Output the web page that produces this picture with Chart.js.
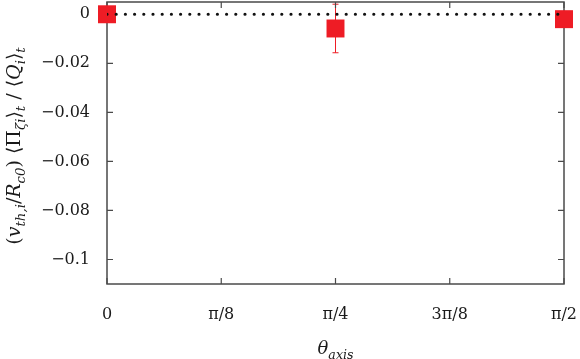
<!DOCTYPE html>
<html><head><meta charset="utf-8">
<script src="https://cdn.jsdelivr.net/npm/chart.js@4.4.0/dist/chart.umd.min.js"></script>
<style>html,body{margin:0;padding:0;background:#fff}#wrap{width:580px;height:359px}</style>
</head><body><div id="wrap"><canvas id="c" width="580" height="359"></canvas></div>
<script>
const thetaValues = [0, Math.PI / 4, Math.PI / 2];
const fluxValues = [0.0, -0.0058, -0.002];
const fluxErrors = [0.0, 0.0099, 0.0];
const xTickValues = [0, Math.PI / 8, Math.PI / 4, 3 * Math.PI / 8, Math.PI / 2];
const xTickLabels = ['0', 'π/8', 'π/4', '3π/8', 'π/2'];
const yTickValues = [0, -0.02, -0.04, -0.06, -0.08, -0.1];
const yTickLabels = ['0', '−0.02', '−0.04', '−0.06', '−0.08', '−0.1'];
const refLineX = [0, Math.PI / 2];
const refLineY = [0, 0];

const FONT = '"DejaVu Serif", "Liberation Serif", serif';
const AXIS_COLOR = '#4a4a4a';
const RED = '#ee1c25';

const errorBarPlugin = {
  id: 'errorBars',
  beforeDatasetsDraw(chart) {
    const ctx = chart.ctx, xs = chart.scales.x, ys = chart.scales.y;
    ctx.save();
    ctx.strokeStyle = RED;
    ctx.lineWidth = 1;
    thetaValues.forEach((t, i) => {
      const e = fluxErrors[i];
      if (!e) return;
      const px = xs.getPixelForValue(t);
      const top = ys.getPixelForValue(fluxValues[i] + e);
      const bot = ys.getPixelForValue(fluxValues[i] - e);
      ctx.beginPath();
      ctx.moveTo(px, top); ctx.lineTo(px, bot);
      ctx.moveTo(px - 3, top); ctx.lineTo(px + 3, top);
      ctx.moveTo(px - 3, bot); ctx.lineTo(px + 3, bot);
      ctx.stroke();
    });
    ctx.restore();
  }
};

const framePlugin = {
  id: 'frame',
  beforeDatasetsDraw(chart) {
    const ctx = chart.ctx, a = chart.chartArea, xs = chart.scales.x, ys = chart.scales.y;
    const L = 6;
    ctx.save();
    ctx.strokeStyle = AXIS_COLOR;
    ctx.lineWidth = 1.5;
    ctx.strokeRect(a.left, a.top, a.right - a.left, a.bottom - a.top);
    ctx.lineWidth = 1.2;
    ctx.beginPath();
    xs.ticks.forEach(t => {
      const p = xs.getPixelForValue(t.value);
      ctx.moveTo(p, a.bottom); ctx.lineTo(p, a.bottom - L);
      ctx.moveTo(p, a.top); ctx.lineTo(p, a.top + L);
    });
    ys.ticks.forEach(t => {
      const p = ys.getPixelForValue(t.value);
      ctx.moveTo(a.left, p); ctx.lineTo(a.left + L, p);
      ctx.moveTo(a.right, p); ctx.lineTo(a.right - L, p);
    });
    ctx.stroke();
    ctx.restore();
  }
};

function runsWidth(ctx, runs, size) {
  let w = 0;
  runs.forEach(r => {
    ctx.font = (r.it ? 'italic ' : '') + (r.sub ? size * 0.7 : size) + 'px ' + FONT;
    w += ctx.measureText(r.t).width;
  });
  return w;
}
function drawRuns(ctx, runs, size, x, y) {
  let cx = x;
  runs.forEach(r => {
    ctx.font = (r.it ? 'italic ' : '') + (r.sub ? size * 0.7 : size) + 'px ' + FONT;
    ctx.fillText(r.t, cx, y + (r.sub ? size * 0.28 : 0));
    cx += ctx.measureText(r.t).width;
  });
}

const yTitleRuns = [
  {t: '('}, {t: 'v', it: true}, {t: 'th,i', it: true, sub: true}, {t: '/'},
  {t: 'R', it: true}, {t: 'c0', it: true, sub: true}, {t: ') ⟨Π'},
  {t: 'ζi', it: true, sub: true}, {t: '⟩'}, {t: 't', it: true, sub: true},
  {t: ' / ⟨'}, {t: 'Q', it: true}, {t: 'i', it: true, sub: true}, {t: '⟩'},
  {t: 't', it: true, sub: true}
];
const xTitleRuns = [{t: 'θ', it: true}, {t: 'axis', it: true, sub: true}];

const titlePlugin = {
  id: 'titles',
  afterDraw(chart) {
    const ctx = chart.ctx, a = chart.chartArea;
    ctx.save();
    ctx.fillStyle = '#1a1a1a';
    ctx.textBaseline = 'alphabetic';
    const ys = 19;
    const w = runsWidth(ctx, yTitleRuns, ys);
    ctx.translate(20, (a.top + a.bottom) / 2 + 3);
    ctx.rotate(-Math.PI / 2);
    drawRuns(ctx, yTitleRuns, ys, -w / 2, 0);
    ctx.restore();
    ctx.save();
    ctx.fillStyle = '#1a1a1a';
    const xsz = 18;
    const wx = runsWidth(ctx, xTitleRuns, xsz);
    drawRuns(ctx, xTitleRuns, xsz, (a.left + a.right) / 2 - wx / 2, 354);
    ctx.restore();
  }
};

new Chart(document.getElementById('c'), {
  type: 'scatter',
  data: {
    datasets: [
      {
        label: 'ref',
        data: refLineX.map((x, i) => ({x, y: refLineY[i]})),
        showLine: true,
        borderColor: '#111',
        borderWidth: 3.2,
        borderDash: [0, 9.2],
        borderCapStyle: 'round',
        pointRadius: 0,
        order: 1
      },
      {
        label: 'flux',
        data: thetaValues.map((x, i) => ({x, y: fluxValues[i]})),
        pointStyle: 'rect',
        pointRadius: 12.7,
        pointHoverRadius: 12.7,
        backgroundColor: RED,
        borderWidth: 0,
        showLine: false,
        clip: false,
        order: 2
      }
    ]
  },
  options: {
    responsive: false,
    animation: false,
    devicePixelRatio: 1,
    layout: {autoPadding: false, padding: {top: 2, right: 16, left: 0, bottom: 0}},
    plugins: {legend: {display: false}, tooltip: {enabled: false}},
    scales: {
      x: {
        type: 'linear', min: 0, max: Math.PI / 2,
        afterBuildTicks: s => { s.ticks = xTickValues.map(v => ({value: v})); },
        afterFit: s => { s.height = 75; s.paddingLeft = 0; s.paddingRight = 0; },
        ticks: {
          callback: (v, i) => xTickLabels[i],
          font: {family: FONT, size: 16},
          color: '#1a1a1a',
          padding: 21,
          maxRotation: 0,
          autoSkip: false
        },
        grid: {display: false, drawTicks: false},
        border: {display: false}
      },
      y: {
        type: 'linear', min: -0.11, max: 0.005,
        afterBuildTicks: s => { s.ticks = yTickValues.map(v => ({value: v})); },
        afterFit: s => { s.width = 107; s.paddingTop = 0; s.paddingBottom = 0; },
        ticks: {
          callback: (v, i) => yTickLabels[i],
          font: {family: FONT, size: 16},
          color: '#1a1a1a',
          padding: 17,
          autoSkip: false
        },
        grid: {display: false, drawTicks: false},
        border: {display: false}
      }
    }
  },
  plugins: [errorBarPlugin, framePlugin, titlePlugin]
});
</script>
</body></html>
